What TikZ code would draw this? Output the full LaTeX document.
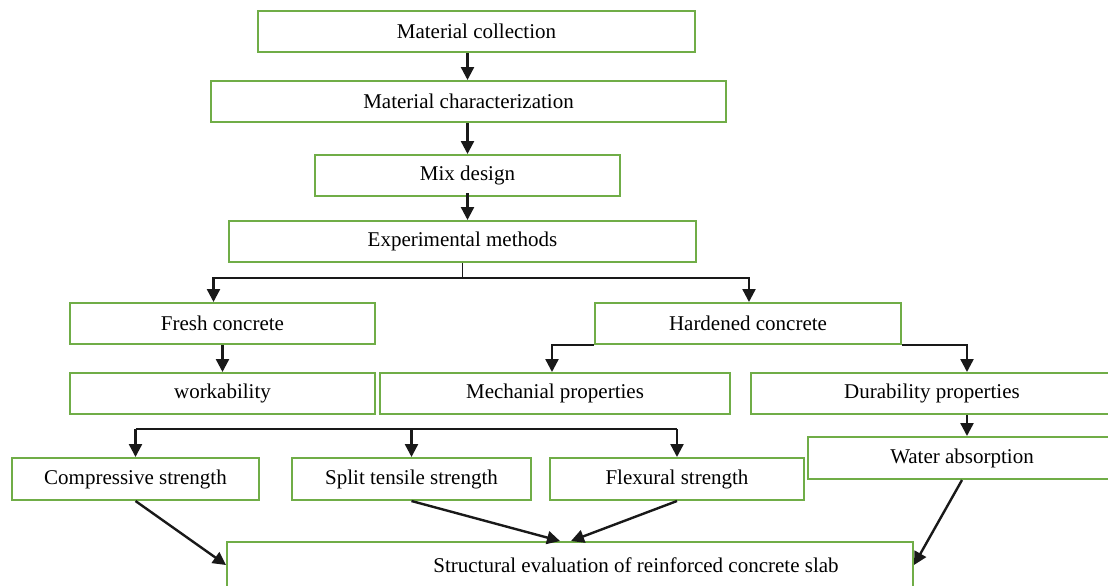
\documentclass[tikz,border=0pt]{standalone}
\usepackage{fontspec}
\setmainfont{Liberation Serif}
\usetikzlibrary{arrows.meta}
\definecolor{boxgreen}{HTML}{70AD47}
\tikzset{
  stage/.style={draw=boxgreen,line width=1pt,inner sep=0pt,minimum height=20.5pt,
    font=\fontsize{10.5}{12}\selectfont},
  arr/.style={-{Triangle[length=6.5pt,width=6.5pt]},line width=1.2pt,draw=black!90},
  link/.style={line width=1.2pt,draw=black!90}
}

\begin{document}
\begin{tikzpicture}[x=0.5pt,y=-0.5pt]
      \clip (0,0) rectangle (1108,585);
      \useasboundingbox (0,0) rectangle (1108,585);
      \node [stage,minimum width=218.5pt] (1) at (476.5,31.5) {Material collection};
      \node [stage,minimum width=257.5pt] (2) at (468.5,101.5) {Material characterization};
      \node [stage,minimum width=152.5pt] (3) at (467.5,175.5) {Mix design};
      \node [stage,minimum width=233.5pt] (4) at (462.5,241.5) {Experimental methods};
      \node [stage,minimum width=152.5pt] (5) at (222.5,323.5) {Fresh concrete};
      \node [stage,minimum width=153pt] (6) at (748,323.5) {Hardened concrete};
      \node [stage,minimum width=152.5pt] (7) at (222.5,393.5) {workability};
      \node [stage,minimum width=175pt] (8) at (555,393.5) {Mechanial properties};
      \node [stage,minimum width=181pt] (9) at (932,393.5) {Durability properties};
      \node [stage,minimum width=123.5pt,minimum height=21pt] (10) at (135.5,479) {Compressive strength};
      \node [stage,minimum width=119.5pt,minimum height=21pt] (11) at (411.5,479) {Split tensile strength};
      \node [stage,minimum width=127pt,minimum height=21pt] (12) at (677,479) {Flexural strength};
      \node [stage,minimum width=154pt,minimum height=21pt] (13) at (962,458) {Water absorption};
      \node [stage,minimum width=343pt,minimum height=23pt,
        label={[font=\fontsize{10.5}{12}\selectfont,xshift=33pt]center:Structural evaluation of reinforced concrete slab}] (14) at (570,565) {};

      \draw[arr] (1.south -| 3.center) -- (2.north -| 3.center);
      \draw[arr] (2.south -| 3.center) -- (3.north);
      \draw[arr] ([yshift=2pt]3.south) -- (4.north -| 3.center);

      \coordinate (e) at ([yshift=-7.5pt]4.south);
      \draw[link,line width=0.9pt] (4.south) -- (e);
      \draw[arr] (e) -| ([xshift=-4.5pt]5.north);
      \draw[arr] (e) -| ([xshift=0.5pt]6.north);
      \draw[arr] (5.south) -- (7.north);
      \draw[arr] (6.south west) -| ([xshift=-1.5pt]8.north);
      \draw[arr] (6.south east) -| ([xshift=17.5pt]9.north);
      \draw[arr] ([xshift=17.5pt]9.south) -- ([xshift=17.5pt]9.south |- 13.north);

      \coordinate (m) at ([yshift=-7pt]8.south);
      \draw[link] (10.north |- m) -- (12.north |- m);
      \foreach \n in {10,11,12}
        \draw[arr] (\n.north |- m) -- (\n.north);

      \draw[arr] (10.south) -- (14.west);
      \draw[arr] (11.south) -- ([xshift=-5pt]14.north);
      \draw[arr] (12.south) -- ([xshift=0.5pt]14.north);
      \draw[arr] (13.south) -- (14.east);
    \end{tikzpicture}
\end{document}
